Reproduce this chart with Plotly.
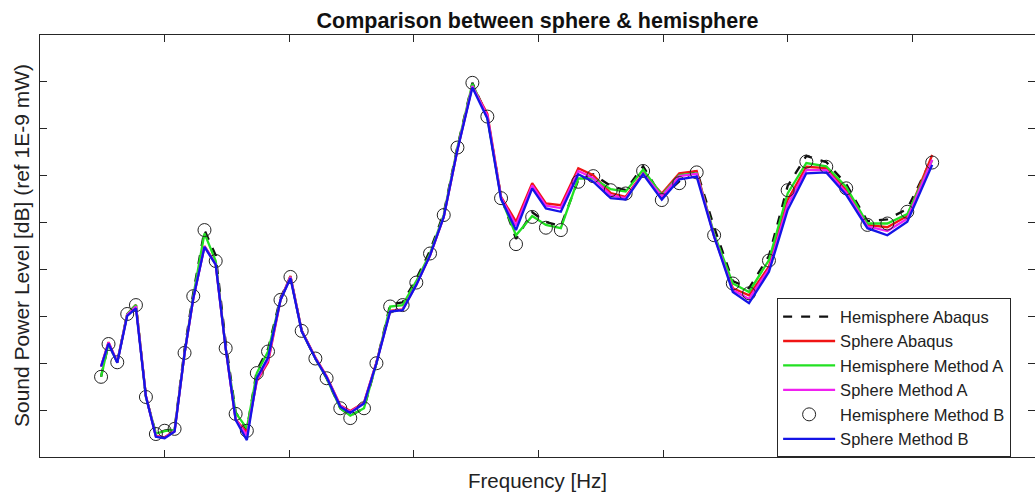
import plotly.graph_objects as go

# Frequency positions (axis units; tick spacing = 1, no tick labels in source)
freq = [0.49, 0.55, 0.62, 0.70, 0.77, 0.85, 0.93, 1.00, 1.08, 1.16,
        1.23, 1.32, 1.41, 1.49, 1.57, 1.66, 1.74, 1.83, 1.93, 2.01,
        2.10, 2.21, 2.30, 2.41, 2.49, 2.60, 2.70, 2.81, 2.91, 3.02,
        3.13, 3.24, 3.35, 3.47, 3.59, 3.70, 3.82, 3.95, 4.06, 4.18,
        4.32, 4.44, 4.58, 4.70, 4.84, 4.99, 5.13, 5.27, 5.41, 5.56,
        5.69, 5.85, 6.00, 6.15, 6.31, 6.47, 6.64, 6.80, 6.96, 7.16]

hemi_abaqus = [1.71, 2.41, 2.02, 3.05, 3.24, 1.28, 0.50, 0.56, 0.60, 2.30,
               3.50, 4.84, 4.30, 2.45, 0.95, 0.58, 1.85, 2.30, 3.40, 3.84,
               2.69, 2.10, 1.68, 1.04, 0.88, 1.04, 2.00, 3.25, 3.30, 3.80,
               4.40, 5.20, 6.62, 7.98, 7.26, 5.55, 4.65, 5.22, 5.01, 4.93,
               5.91, 6.03, 5.78, 5.69, 6.20, 5.54, 5.88, 6.12, 4.90, 3.75,
               3.60, 4.29, 5.78, 6.42, 6.29, 5.82, 5.03, 5.07, 5.29, 6.38]

sphere_abaqus = [1.93, 2.45, 2.02, 3.05, 3.24, 1.30, 0.45, 0.42, 0.56, 2.21,
                 3.38, 4.50, 4.12, 2.32, 0.80, 0.52, 1.62, 2.02, 3.35, 3.86,
                 2.70, 2.12, 1.72, 1.10, 0.98, 1.16, 2.02, 3.12, 3.15, 3.68,
                 4.30, 5.12, 6.56, 7.92, 7.32, 5.55, 5.02, 5.84, 5.41, 5.37,
                 6.16, 6.01, 5.63, 5.55, 6.05, 5.62, 6.05, 6.10, 4.71, 3.60,
                 3.45, 4.06, 5.48, 6.19, 6.16, 5.69, 4.95, 4.90, 5.14, 6.44]

hemi_method_a = [1.71, 2.41, 2.02, 3.05, 3.24, 1.28, 0.50, 0.55, 0.58, 2.22,
                 3.43, 4.77, 4.18, 2.32, 0.94, 0.61, 1.79, 2.25, 3.35, 3.84,
                 2.69, 2.10, 1.68, 1.04, 0.88, 1.04, 2.00, 3.21, 3.24, 3.75,
                 4.34, 5.16, 6.60, 7.96, 7.24, 5.52, 4.73, 5.14, 4.95, 4.88,
                 5.94, 5.94, 5.71, 5.66, 6.13, 5.59, 6.01, 6.05, 4.76, 3.70,
                 3.52, 4.20, 5.62, 6.27, 6.20, 5.76, 4.98, 4.98, 5.18, 6.33]

sphere_method_a = [1.93, 2.44, 2.02, 3.03, 3.21, 1.30, 0.44, 0.41, 0.55, 2.21,
                   3.38, 4.49, 4.11, 2.32, 0.80, 0.46, 1.64, 2.06, 3.35, 3.84,
                   2.69, 2.11, 1.71, 1.09, 0.96, 1.15, 2.01, 3.11, 3.14, 3.68,
                   4.30, 5.12, 6.56, 7.91, 7.28, 5.53, 4.94, 5.79, 5.36, 5.31,
                   6.10, 5.95, 5.58, 5.52, 6.04, 5.56, 5.99, 6.04, 4.71, 3.56,
                   3.37, 4.01, 5.38, 6.12, 6.12, 5.64, 4.92, 4.82, 5.08, 6.34]

hemi_method_b = [1.71, 2.41, 2.02, 3.05, 3.24, 1.28, 0.49, 0.56, 0.60, 2.22,
                 3.43, 4.84, 4.18, 2.32, 0.92, 0.56, 1.79, 2.25, 3.35, 3.84,
                 2.69, 2.10, 1.68, 1.04, 0.83, 1.04, 2.00, 3.21, 3.24, 3.72,
                 4.34, 5.16, 6.60, 7.98, 7.26, 5.52, 4.54, 5.12, 4.89, 4.84,
                 5.87, 5.99, 5.69, 5.62, 6.10, 5.48, 5.84, 6.07, 4.73, 3.70,
                 3.49, 4.19, 5.69, 6.30, 6.19, 5.73, 4.95, 4.98, 5.23, 6.28]

sphere_method_b = [1.93, 2.42, 2.01, 3.01, 3.17, 1.29, 0.43, 0.40, 0.54, 2.21,
                   3.38, 4.48, 4.10, 2.32, 0.79, 0.36, 1.68, 2.12, 3.35, 3.81,
                   2.68, 2.10, 1.70, 1.07, 0.94, 1.14, 2.00, 3.10, 3.13, 3.67,
                   4.30, 5.12, 6.55, 7.88, 7.22, 5.50, 4.84, 5.73, 5.30, 5.23,
                   6.03, 5.87, 5.52, 5.49, 6.03, 5.49, 5.92, 5.98, 4.70, 3.52,
                   3.28, 3.95, 5.27, 6.05, 6.07, 5.59, 4.88, 4.73, 5.02, 6.23]

x_ticks = [1, 2, 3, 4, 5, 6, 7]
y_ticks = [1, 2, 3, 4, 5, 6, 7, 8]

FONT = "Arial, Liberation Sans, sans-serif"
AX = "#262626"
LW = 2.3

fig = go.Figure()
fig.add_trace(go.Scatter(x=freq, y=hemi_abaqus, mode="lines", name="Hemisphere Abaqus",
                         line=dict(color="#111111", width=LW, dash="dash")))
fig.add_trace(go.Scatter(x=freq, y=sphere_abaqus, mode="lines", name="Sphere Abaqus",
                         line=dict(color="#f01414", width=LW)))
fig.add_trace(go.Scatter(x=freq, y=hemi_method_a, mode="lines", name="Hemisphere Method A",
                         line=dict(color="#22e022", width=LW)))
fig.add_trace(go.Scatter(x=freq, y=sphere_method_a, mode="lines", name="Sphere Method A",
                         line=dict(color="#f020f0", width=LW)))
fig.add_trace(go.Scatter(x=freq, y=hemi_method_b, mode="markers", name="Hemisphere Method B",
                         marker=dict(symbol="circle-open", size=13, color="#222222",
                                     line=dict(width=1, color="#222222"))))
fig.add_trace(go.Scatter(x=freq, y=sphere_method_b, mode="lines", name="Sphere Method B",
                         line=dict(color="#1414e6", width=LW)))

axis_common = dict(showline=True, linecolor=AX, linewidth=1, mirror="ticks",
                   ticks="inside", ticklen=7, tickcolor=AX, tickwidth=1,
                   showticklabels=False, showgrid=False, zeroline=False)

fig.update_xaxes(range=[0, 7.985], tickvals=x_ticks, **axis_common)
fig.update_yaxes(range=[0, 9], tickvals=y_ticks, **axis_common)

fig.update_layout(
    width=1035, height=495,
    margin=dict(l=40, r=0, t=35, b=38),
    paper_bgcolor="white", plot_bgcolor="white",
    font=dict(family=FONT, color="#222222"),
    title=dict(text="<b>Comparison between sphere & hemisphere</b>",
               font=dict(size=21.5, family=FONT, color="#111111"),
               x=0.5, xref="paper", xanchor="center",
               y=1 - 20 / 495, yref="container", yanchor="middle"),
    showlegend=True,
    legend=dict(x=0.976, xanchor="right", y=0.376, yanchor="top",
                bgcolor="white", bordercolor=AX, borderwidth=1,
                font=dict(size=16.5, family=FONT, color="#222222"),
                itemwidth=52, tracegroupgap=0),
    annotations=[
        dict(text="Frequency [Hz]", x=0.5, xref="paper", y=-23 / 422, yref="paper",
             xanchor="center", yanchor="middle", showarrow=False,
             font=dict(size=20.5, family=FONT, color="#222222")),
        dict(text="Sound Power Level [dB] (ref 1E-9 mW)", x=-19 / 995, xref="paper",
             y=0.5, yref="paper", xanchor="center", yanchor="middle", textangle=-90,
             showarrow=False, font=dict(size=21, family=FONT, color="#222222")),
    ],
)

fig.write_html("out.html")
